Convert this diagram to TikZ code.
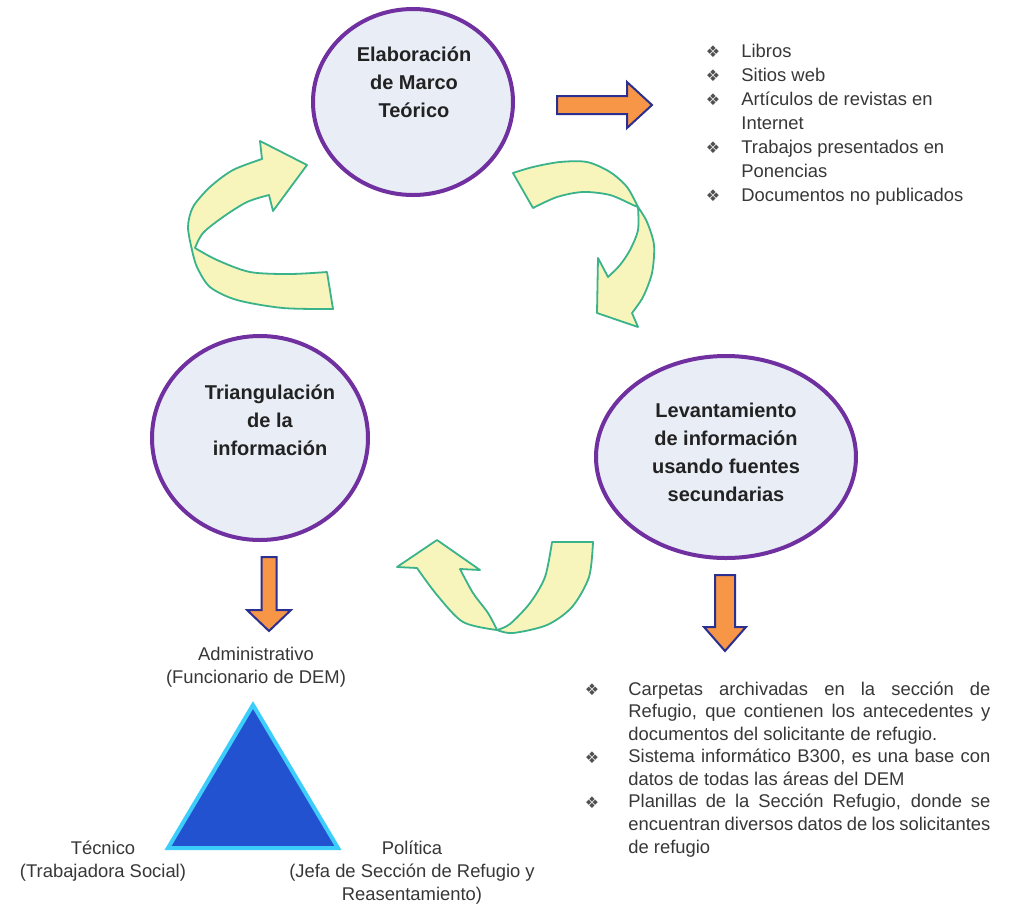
\documentclass[tikz,border=0pt]{standalone}
\usepackage{fontspec}
\usetikzlibrary{shapes.geometric}
\setmainfont{Liberation Sans}
\newfontfamily\symfont{DejaVu Sans}

\definecolor{bubblefill}{RGB}{232,237,246}
\definecolor{bubbleedge}{RGB}{112,48,160}
\definecolor{ribbonfill}{RGB}{248,245,188}
\definecolor{ribbonedge}{RGB}{58,178,138}
\definecolor{blockfill}{RGB}{247,150,70}
\definecolor{blockedge}{RGB}{43,47,143}
\definecolor{trifill}{RGB}{35,82,208}
\definecolor{triedge}{RGB}{60,205,250}
\definecolor{titlegray}{RGB}{34,34,34}
\definecolor{bodygray}{RGB}{55,55,55}
\definecolor{bulletgray}{RGB}{80,80,80}

\newcommand{\jline}[1]{\makebox[181pt][s]{#1}}

\begin{document}
\begin{tikzpicture}[x=0.5pt,y=-0.5pt,
  bubble/.style={ellipse, draw=bubbleedge, fill=bubblefill, line width=2pt, inner sep=0pt},
  title/.style={font=\fontsize{10}{14}\selectfont\bfseries, text=titlegray, align=center, inner sep=0pt},
  loop/.style={draw=ribbonedge, fill=ribbonfill, line width=0.9pt, line join=round},
  block/.style={draw=blockedge, fill=blockfill, line width=1pt, line join=miter},
  tri/.style={draw=triedge, fill=trifill, line width=2pt, line join=miter},
  body/.style={font=\fontsize{9.2}{11.5}\selectfont, text=bodygray, inner sep=0pt},
  bul/.style={font=\symfont\fontsize{8}{8}\selectfont, text=bulletgray, inner sep=0pt}]

\useasboundingbox (0,0) rectangle (1019,917);
\fill[white] (0,0) rectangle (1019,917);

% --- the three stages ---
\node[bubble, minimum width=100pt, minimum height=93pt] (marco) at (413,102) {};
\node[title] (marcoT) at (414,82) {Elaboración\\de Marco\\Teórico};

\node[bubble, minimum width=130pt, minimum height=101pt] (levant) at (726,457) {};
\node[title] (levantT) at (726,452) {Levantamiento\\de información\\usando fuentes\\secundarias};

\node[bubble, minimum width=108pt, minimum height=102pt] (triang) at (260,438) {};
\node[title] (triangT) at (270,420) {Triangulación\\de la\\información};

% --- curved ribbon arrows of the cycle ---
% from Triangulación up to Elaboración
\draw[loop] plot[smooth] coordinates {(327,272) (290,274) (250,272) (217,260) (195,248)}
  -- plot[smooth] coordinates {(195,248) (203,233) (223,217) (247,202) (269,195)}
  -- (273,211) -- (307,165) -- (260,141) -- (262,159)
  -- plot[smooth] coordinates {(262,159) (233,170) (210,187) (193,207) (188,227) (192,250)}
  -- plot[smooth] coordinates {(192,250) (197,267) (210,287) (237,300) (283,308) (333,309)}
  -- cycle;

% from Elaboración down to Levantamiento
\draw[loop] plot[smooth] coordinates {(513,173) (533,167) (560,162) (587,162) (610,172) (627,187) (638,207)}
  -- plot[smooth] coordinates {(638,207) (647,222) (654,245) (652,273) (643,297) (632,313)}
  -- (638,327) -- (597,313) -- (598,258) -- (608,277)
  -- plot[smooth] coordinates {(608,277) (620,265) (630,250) (638,230) (638,207)}
  -- plot[smooth] coordinates {(638,207) (633,205) (610,195) (583,192) (557,197) (533,208)}
  -- cycle;

% from Levantamiento back to Triangulación
\draw[loop] (397,567) -- (437,540) -- (480,570) -- (460,569)
  -- plot[smooth] coordinates {(460,569) (473,593) (488,613) (497,630)}
  -- plot[smooth] coordinates {(497,630) (510,624) (530,603) (545,577) (552,542)}
  -- (593,542)
  -- plot[smooth] coordinates {(593,542) (589,577) (572,607) (547,625) (513,633) (497,630)}
  -- plot[smooth] coordinates {(497,630) (463,622) (437,595) (417,568)}
  -- cycle;

% --- orange block arrows ---
\draw[block] (557,96) -- (627,96) -- (627,82) -- (652,105) -- (627,128) -- (627,114) -- (557,114) -- cycle;
\draw[block] (261.5,557) -- (276.5,557) -- (276.5,610) -- (291,610) -- (269,631) -- (247,610) -- (261.5,610) -- cycle;
\draw[block] (715,575) -- (735,575) -- (735,627) -- (746,627) -- (725,651) -- (704,627) -- (715,627) -- cycle;

% --- sources for the theoretical framework ---
\foreach \y/\t/\b [count=\i] in {
    52/Libros/1,
    76/Sitios web/1,
    100/Artículos de revistas en/1,
    124/Internet/0,
    148/Trabajos presentados en/1,
    172/Ponencias/0,
    196/Documentos no publicados/1}{
  \node[body, anchor=base west] (fuente\i) at (741,\y+5) {\t};
  \ifnum\b=1 \node[bul] (fuenteB\i) at (713,\y) {❖};\fi
}

% --- secondary sources ---
\node[bul] (srcB1) at (592,690) {❖};
\node[body, anchor=base west] (src1) at (628,695) {\jline{Carpetas archivadas en la sección de}};
\node[body, anchor=base west] (src2) at (628,717.5) {\jline{Refugio, que contienen los antecedentes y}};
\node[body, anchor=base west] (src3) at (628,740) {documentos del solicitante de refugio.};
\node[bul] (srcB4) at (592,757.5) {❖};
\node[body, anchor=base west] (src4) at (628,762.5) {\jline{Sistema informático B300, es una base con}};
\node[body, anchor=base west] (src5) at (628,785) {datos de todas las áreas del DEM};
\node[bul] (srcB6) at (592,802.5) {❖};
\node[body, anchor=base west] (src6) at (628,807.5) {\jline{Planillas de la Sección Refugio, donde se}};
\node[body, anchor=base west] (src7) at (628,830) {\jline{encuentran diversos datos de los solicitantes}};
\node[body, anchor=base west] (src8) at (628,853) {de refugio};

% --- triangulation of actors ---
\coordinate (apex) at (253,705);
\coordinate (baseR) at (338,848);
\coordinate (baseL) at (168,848);
\draw[tri] (apex) -- (baseR) -- (baseL) -- cycle;
\node[body, align=center] (adm) at (256,667) {Administrativo\\(Funcionario de DEM)};
\node[body, align=center] (tec) at (103,861) {Técnico\\(Trabajadora Social)};
\node[body, align=center] (pol) at (412,873) {Política\\(Jefa de Sección de Refugio y\\Reasentamiento)};
\end{tikzpicture}
\end{document}
